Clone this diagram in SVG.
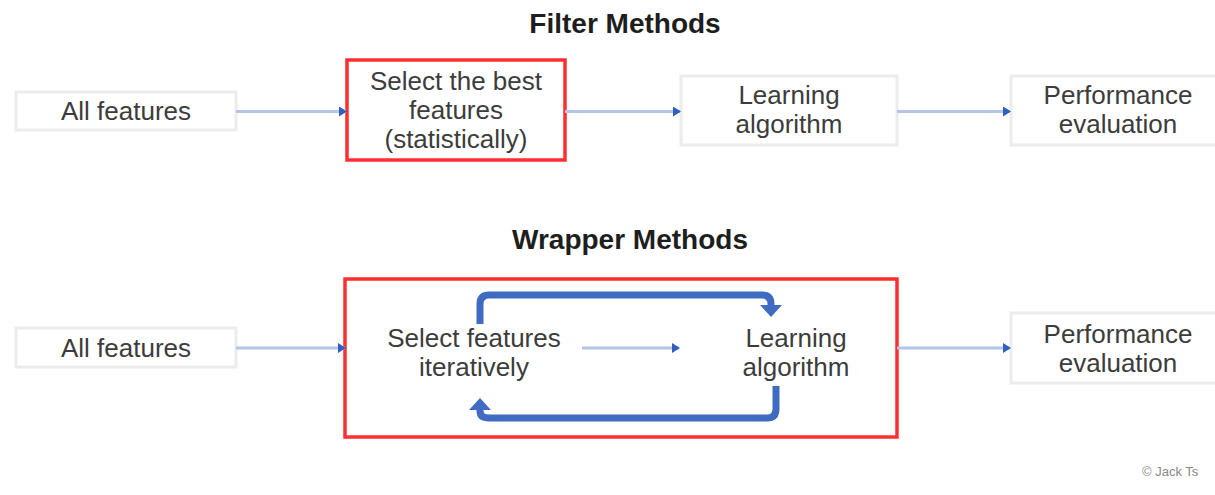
<svg xmlns="http://www.w3.org/2000/svg" width="1215" height="495" viewBox="0 0 1215 495">
<style>
  .box { fill: #ffffff; stroke: #ececec; stroke-width: 3; }
  .red { fill: none; stroke: #ff2f2f; stroke-width: 3.5; }
  .t { font-family: "Liberation Sans", Arial, sans-serif; font-size: 26px; fill: #3c3c3c; text-anchor: middle; }
  .title { font-family: "Liberation Sans", Arial, sans-serif; font-size: 28px; font-weight: bold; fill: #1e1e1e; text-anchor: middle; }
  .conn { fill: none; stroke: #b4c5e6; stroke-width: 3; marker-end: url(#arr); }
  .loop { fill: none; stroke: #3f6cc2; stroke-width: 7; marker-end: url(#big); }
  .copy { font-family: "Liberation Sans", Arial, sans-serif; font-size: 13px; fill: #8a8a8a; }
</style>
<defs>
  <marker id="arr" markerUnits="userSpaceOnUse" markerWidth="8" markerHeight="10" refX="7" refY="5" orient="auto">
    <path d="M0,0 L8,5 L0,10 z" fill="#2f5fbf"/>
  </marker>
  <marker id="big" markerUnits="userSpaceOnUse" markerWidth="12" markerHeight="22" refX="0" refY="11" orient="auto">
    <path d="M0,0 L12,11 L0,22 z" fill="#3f6cc2"/>
  </marker>
</defs>
<rect width="1215" height="495" fill="#ffffff"/>

<text class="title" x="625" y="33">Filter Methods</text>
<text class="title" x="630" y="249">Wrapper Methods</text>

<g id="f-all">
  <rect class="box" x="16" y="92" width="220" height="38"/>
  <text class="t" x="126" y="120">All features</text>
</g>
<g id="f-select">
  <rect class="red" x="347" y="60" width="218" height="100"/>
  <text class="t" x="456" y="90">Select the best</text>
  <text class="t" x="456" y="119">features</text>
  <text class="t" x="456" y="148">(statistically)</text>
</g>
<g id="f-learn">
  <rect class="box" x="681" y="76" width="216" height="69"/>
  <text class="t" x="789" y="104">Learning</text>
  <text class="t" x="789" y="133">algorithm</text>
</g>
<g id="f-perf">
  <rect class="box" x="1011" y="76" width="215" height="69"/>
  <text class="t" x="1118" y="104">Performance</text>
  <text class="t" x="1118" y="133">evaluation</text>
</g>

<g id="w-all">
  <rect class="box" x="16" y="328" width="220" height="39"/>
  <text class="t" x="126" y="357">All features</text>
</g>
<g id="w-wrapper">
  <rect class="red" x="345" y="279" width="552" height="158"/>
</g>
<g id="w-select">
  <text class="t" x="474" y="347">Select features</text>
  <text class="t" x="474" y="376">iteratively</text>
</g>
<g id="w-learn">
  <text class="t" x="796" y="347">Learning</text>
  <text class="t" x="796" y="376">algorithm</text>
</g>
<g id="w-perf">
  <rect class="box" x="1011" y="313" width="215" height="70"/>
  <text class="t" x="1118" y="343">Performance</text>
  <text class="t" x="1118" y="372">evaluation</text>
</g>

<g id="connectors">
  <path class="conn" d="M236,111.5 H346"/>
  <path class="conn" d="M565,111.5 H680"/>
  <path class="conn" d="M897,111.5 H1010"/>
  <path class="conn" d="M236,348 H345"/>
  <path class="conn" d="M582,348 H679"/>
  <path class="conn" d="M897,348 H1010"/>
  <path class="loop" d="M480,324 V304 Q480,295 489,295 H762 Q771,295 771,304 V305"/>
  <path class="loop" d="M776,386 V409 Q776,418 767,418 H489 Q480,418 480,411 V410"/>
</g>

<text class="copy" x="1142" y="476">© Jack Ts</text>
</svg>
